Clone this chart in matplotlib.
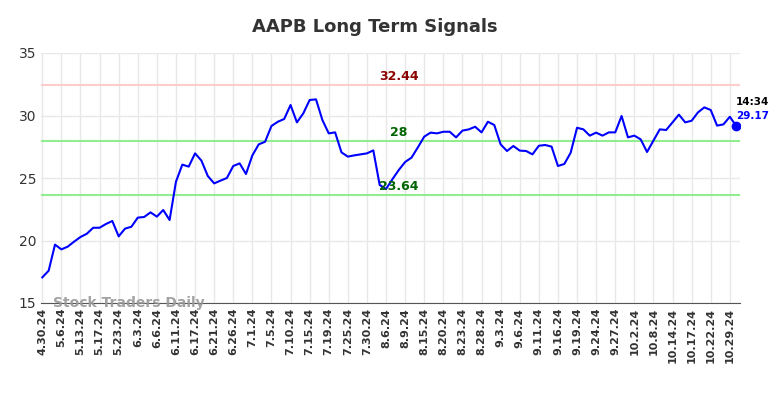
import matplotlib
matplotlib.use('Agg')
import matplotlib.pyplot as plt
import numpy as np

# closing prices, one per trading day shown
prices = [17.05, 17.58, 19.67, 19.29, 19.51, 19.91, 20.28, 20.54, 21.02, 21.02,
          21.32, 21.56, 20.33, 20.95, 21.10, 21.83, 21.88, 22.25, 21.91, 22.44,
          21.64, 24.70, 26.07, 25.91, 26.97, 26.39, 25.16, 24.57, 24.79, 25.00,
          25.96, 26.17, 25.32, 26.81, 27.69, 27.90, 29.16, 29.50, 29.72, 30.84,
          29.45, 30.17, 31.24, 31.29, 29.64, 28.57, 28.65, 27.05, 26.71, 26.81,
          26.89, 26.97, 27.21, 24.44, 24.12, 24.90, 25.64, 26.28, 26.63, 27.45,
          28.31, 28.63, 28.57, 28.70, 28.70, 28.25, 28.79, 28.89, 29.10, 28.65,
          29.50, 29.24, 27.69, 27.16, 27.56, 27.19, 27.16, 26.89, 27.58, 27.64,
          27.51, 25.96, 26.12, 27.02, 29.02, 28.89, 28.39, 28.63, 28.39, 28.65,
          28.65, 29.96, 28.25, 28.39, 28.09, 27.08, 27.99, 28.89, 28.84, 29.45,
          30.07, 29.45, 29.58, 30.25, 30.65, 30.44, 29.19, 29.29, 29.90, 29.17]

tick_labels = ['4.30.24', '5.6.24', '5.13.24', '5.17.24', '5.23.24', '6.3.24',
               '6.6.24', '6.11.24', '6.17.24', '6.21.24', '6.26.24', '7.1.24',
               '7.5.24', '7.10.24', '7.15.24', '7.19.24', '7.25.24', '7.30.24',
               '8.6.24', '8.9.24', '8.15.24', '8.20.24', '8.23.24', '8.28.24',
               '9.3.24', '9.6.24', '9.11.24', '9.16.24', '9.19.24', '9.24.24',
               '9.27.24', '10.2.24', '10.8.24', '10.14.24', '10.17.24',
               '10.22.24', '10.29.24']

upper = 32.44
mid = 28
lower = 23.64
last_time = '14:34'

fig = plt.figure(figsize=(7.84, 3.98), dpi=100)
ax = fig.add_axes([41/784, 1-303/398, 699/784, 250/398])

x = np.arange(len(prices))
ax.axhline(upper, color='#ffcccc', lw=1.5, zorder=1)
ax.axhline(mid, color='#90ee90', lw=1.5, zorder=1)
ax.axhline(lower, color='#90ee90', lw=1.5, zorder=1)
ax.plot(x, prices, color='blue', lw=1.5, zorder=3)
ax.plot(x[-1], prices[-1], 'o', color='blue', ms=6, zorder=4)

lx = 56
ax.text(lx, upper + 0.15, f'{upper:.2f}', color='#8b0000', fontsize=9,
        fontweight='bold', ha='center', va='bottom')
ax.text(lx, mid + 0.15, f'{mid}', color='#006400', fontsize=9,
        fontweight='bold', ha='center', va='bottom')
ax.text(lx, lower + 0.15, f'{lower:.2f}', color='#006400', fontsize=9,
        fontweight='bold', ha='center', va='bottom')

ax.text(x[-1], prices[-1] + 1.5, last_time, color='black', fontsize=7.5,
        fontweight='bold', ha='left', va='bottom', clip_on=False)
ax.text(x[-1], prices[-1] + 0.4, f'{prices[-1]:.2f}', color='blue',
        fontsize=7.5, fontweight='bold', ha='left', va='bottom', clip_on=False)

ax.text(1.7, 15.0, 'Stock Traders Daily', color='#999999', fontsize=10,
        fontweight='bold', ha='left', va='center', alpha=0.9)

ax.set_xlim(-0.2, 109.6)
ax.set_ylim(15, 35)
ax.set_yticks([15, 20, 25, 30, 35])
ax.set_xticks(x[::3])
ax.set_xticklabels(tick_labels, rotation=90, fontsize=8, fontweight='bold')
ax.tick_params(axis='both', length=0, colors='#333333')
ax.tick_params(axis='y', labelsize=10)
ax.grid(True, color='#e8e8e8', lw=1)
ax.set_axisbelow(True)
for s in ['top', 'right', 'left']:
    ax.spines[s].set_visible(False)
ax.spines['bottom'].set_color('#555555')

fig.text(374.5/784, 1-27/398, 'AAPB Long Term Signals', fontsize=13,
         fontweight='bold', color='#333333', ha='center', va='center')

fig.savefig('out.png', dpi=100)
